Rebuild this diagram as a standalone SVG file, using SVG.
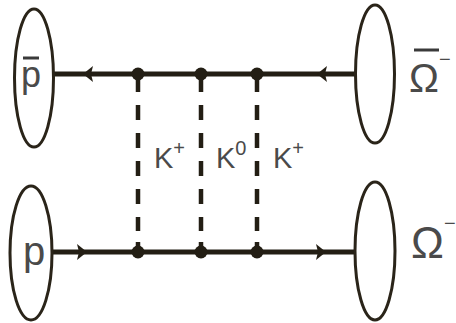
<svg xmlns="http://www.w3.org/2000/svg" width="456" height="323" viewBox="0 0 456 323">
<style>
.ell{fill:none;stroke:#2a2419;stroke-width:3}
.ln{stroke:#231e14;stroke-width:5;fill:none}
.dash{stroke:#231e14;stroke-width:4.5;fill:none;stroke-dasharray:18 13 15 13 15 13 15 13 15 13 14 11 40}
.dot{fill:#231e14}
.arr{fill:#231e14}
.t{font-family:"Liberation Sans",Arial,sans-serif;fill:#4a4a4a}
.bar{stroke:#3a3a3a;stroke-width:3}
</style>
<rect width="456" height="323" fill="#ffffff"/>
<g id="connectors">
<line class="ln" x1="53" y1="74" x2="355" y2="74"/>
<line class="ln" x1="52" y1="252" x2="355" y2="252"/>
<line class="dash" x1="138" y1="74" x2="138" y2="252"/>
<line class="dash" x1="201" y1="74" x2="201" y2="252"/>
<line class="dash" x1="257" y1="74" x2="257" y2="252"/>
<path class="arr" d="M83,74 L93,66 L91,74 L93,82 Z"/>
<path class="arr" d="M317,74 L327,66 L325,74 L327,82 Z"/>
<path class="arr" d="M87,252 L77,244 L79,252 L77,260 Z"/>
<path class="arr" d="M326,252 L316,244 L318,252 L316,260 Z"/>
<circle class="dot" cx="138" cy="74" r="6.5"/>
<circle class="dot" cx="201" cy="74" r="6.5"/>
<circle class="dot" cx="257" cy="74" r="6.5"/>
<circle class="dot" cx="138" cy="252" r="6.5"/>
<circle class="dot" cx="201" cy="252" r="6.5"/>
<circle class="dot" cx="257" cy="252" r="6.5"/>
<text class="t" x="154" y="168" font-size="29">K<tspan font-size="20" dy="-13">+</tspan></text>
<text class="t" x="216" y="168" font-size="29">K<tspan font-size="20" dy="-13">0</tspan></text>
<text class="t" x="273" y="168" font-size="29">K<tspan font-size="20" dy="-13">+</tspan></text>
</g>
<g id="pbar">
<ellipse class="ell" cx="34" cy="78" rx="19.5" ry="69"/>
<text class="t" x="31" y="87" font-size="36" text-anchor="middle">p</text>
<line class="bar" x1="23" y1="58" x2="39" y2="58"/>
</g>
<g id="p">
<ellipse class="ell" cx="31" cy="253" rx="21" ry="67"/>
<text class="t" x="34" y="265" font-size="40" text-anchor="middle">p</text>
</g>
<g id="omegabar">
<ellipse class="ell" cx="375" cy="74" rx="19.5" ry="69"/>
<text class="t" x="409" y="92" font-size="40" fill="#333">Ω<tspan font-size="20" dy="-26">−</tspan></text>
<line class="bar" x1="414" y1="50" x2="439" y2="50"/>
</g>
<g id="omega">
<ellipse class="ell" cx="375" cy="251" rx="20" ry="69"/>
<text class="t" x="411" y="258" font-size="44" fill="#333">Ω<tspan font-size="20" dy="-28">−</tspan></text>
</g>
</svg>
